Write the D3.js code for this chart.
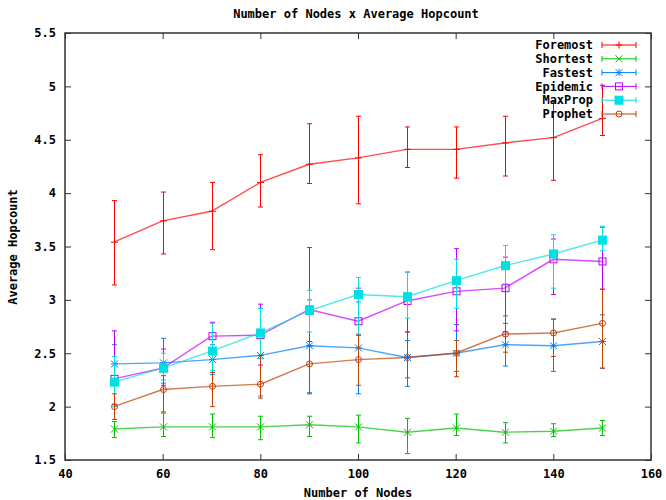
<!DOCTYPE html>
<html>
<head>
<meta charset="utf-8">
<script src="https://cdn.jsdelivr.net/npm/d3@7"></script>
<style>
  html, body { margin: 0; padding: 0; background: #fff; }
  svg text { font-family: "DejaVu Sans Mono", "Liberation Mono", monospace; font-weight: bold; font-size: 12px; fill: #000; }
</style>
</head>
<body>
<svg id="chart" width="666" height="500"></svg>
<script>
// ---------- data ----------
const nodes = [50, 60, 70, 80, 90, 100, 110, 120, 130, 140, 150];

const foremost     = [3.54, 3.74, 3.83, 4.10, 4.27, 4.33, 4.41, 4.41, 4.47, 4.52, 4.70];
const foremostLow  = [3.14, 3.43, 3.47, 3.87, 4.09, 3.90, 4.24, 4.14, 4.16, 4.12, 4.54];
const foremostHigh = [3.93, 4.01, 4.10, 4.36, 4.65, 4.72, 4.62, 4.62, 4.72, 4.86, 5.01];

const shortest     = [1.79, 1.81, 1.81, 1.81, 1.83, 1.81, 1.76, 1.80, 1.76, 1.77, 1.80];
const shortestLow  = [1.71, 1.72, 1.71, 1.69, 1.72, 1.66, 1.56, 1.73, 1.66, 1.72, 1.73];
const shortestHigh = [1.86, 1.94, 1.93, 1.91, 1.91, 1.92, 1.89, 1.93, 1.85, 1.84, 1.87];

const fastest      = [2.40, 2.41, 2.44, 2.48, 2.57, 2.55, 2.46, 2.50, 2.58, 2.57, 2.61];
const fastestLow   = [2.22, 2.22, 2.30, 2.10, 2.13, 2.12, 2.19, 2.33, 2.38, 2.33, 2.36];
const fastestHigh  = [2.58, 2.64, 2.58, 2.92, 3.00, 2.98, 2.62, 2.77, 2.78, 2.82, 2.86];

const epidemic     = [2.26, 2.36, 2.66, 2.67, 2.91, 2.80, 2.99, 3.08, 3.11, 3.38, 3.36];
const epidemicLow  = [2.02, 2.20, 2.50, 2.39, 2.61, 2.67, 2.70, 2.71, 2.70, 3.05, 3.10];
const epidemicHigh = [2.71, 2.54, 2.79, 2.96, 3.49, 3.11, 3.26, 3.48, 3.40, 3.57, 3.68];

const maxprop      = [2.23, 2.36, 2.52, 2.69, 2.90, 3.05, 3.03, 3.18, 3.32, 3.43, 3.56];
const maxpropLow   = [2.00, 2.25, 2.34, 2.45, 2.70, 2.68, 2.83, 2.92, 3.15, 3.11, 3.46];
const maxpropHigh  = [2.47, 2.50, 2.78, 2.92, 3.09, 3.21, 3.26, 3.38, 3.51, 3.61, 3.69];

const prophet      = [2.00, 2.16, 2.19, 2.21, 2.40, 2.44, 2.46, 2.50, 2.68, 2.69, 2.78];
const prophetLow   = [1.88, 1.95, 2.00, 2.08, 2.12, 2.20, 2.27, 2.28, 2.51, 2.47, 2.36];
const prophetHigh  = [2.12, 2.29, 2.32, 2.48, 2.57, 2.67, 2.70, 2.62, 2.85, 2.82, 3.10];

const seriesNames  = ["Foremost", "Shortest", "Fastest", "Epidemic", "MaxProp", "Prophet"];
const xTicks = [40, 60, 80, 100, 120, 140, 160];
const yTicks = [1.5, 2, 2.5, 3, 3.5, 4, 4.5, 5, 5.5];

const titleText = "Number of Nodes x Average Hopcount";
const xLabel = "Number of Nodes";
const yLabel = "Average Hopcount";

// ---------- styling ----------
const series = [
  { name: seriesNames[0], v: foremost, lo: foremostLow, hi: foremostHigh, color: "#ff0000", marker: "plus" },
  { name: seriesNames[1], v: shortest, lo: shortestLow, hi: shortestHigh, color: "#00c000", marker: "cross" },
  { name: seriesNames[2], v: fastest,  lo: fastestLow,  hi: fastestHigh,  color: "#0080ff", marker: "star" },
  { name: seriesNames[3], v: epidemic, lo: epidemicLow, hi: epidemicHigh, color: "#c000ff", marker: "square" },
  { name: seriesNames[4], v: maxprop,  lo: maxpropLow,  hi: maxpropHigh,  color: "#00e0e0", marker: "fsquare" },
  { name: seriesNames[5], v: prophet,  lo: prophetLow,  hi: prophetHigh,  color: "#c04000", marker: "circle" }
];

const L = 65, R = 651, T = 33, B = 460;
const svg = d3.select("#chart");
const x = d3.scaleLinear().domain([40, 160]).range([L, R]);
const y = d3.scaleLinear().domain([1.5, 5.5]).range([B, T]);

// axes with inward ticks
const axColor = "#333";
function styleAxis(g) {
  g.select(".domain").remove();
  g.selectAll(".tick line").attr("stroke", axColor);
  g.selectAll(".tick text").attr("fill", "#000");
}
svg.append("g").attr("transform", `translate(0,${B})`)
  .call(d3.axisBottom(x).tickValues(xTicks).tickSizeInner(-6).tickSizeOuter(0).tickPadding(9).tickFormat(d3.format("d")))
  .call(styleAxis);
svg.append("g").attr("transform", `translate(0,${T})`)
  .call(d3.axisTop(x).tickValues(xTicks).tickSizeInner(-6).tickSizeOuter(0).tickFormat(""))
  .call(styleAxis);
svg.append("g").attr("transform", `translate(${L},0)`)
  .call(d3.axisLeft(y).tickValues(yTicks).tickSizeInner(-6).tickSizeOuter(0).tickPadding(9).tickFormat(d => (d % 1 === 0 ? d3.format("d")(d) : d3.format(".1f")(d))))
  .call(styleAxis);
svg.append("g").attr("transform", `translate(${R},0)`)
  .call(d3.axisRight(y).tickValues(yTicks).tickSizeInner(-6).tickSizeOuter(0).tickFormat(""))
  .call(styleAxis);
svg.selectAll("g text").style("font-family", "'DejaVu Sans Mono', monospace").style("font-size", "12px").style("font-weight", "bold");

svg.append("rect").attr("x", L).attr("y", T).attr("width", R - L).attr("height", B - T)
  .attr("fill", "none").attr("stroke", axColor).attr("stroke-width", 1.5);

// titles
svg.append("text").attr("x", 356).attr("y", 18).attr("text-anchor", "middle").text(titleText);
svg.append("text").attr("x", 358).attr("y", 497).attr("text-anchor", "middle").text(xLabel);
svg.append("text").attr("transform", "translate(17,247) rotate(-90)").attr("text-anchor", "middle").text(yLabel);

// marker drawing
function drawMarker(g, type, cx, cy, color) {
  const s = 3.5;
  if (type === "plus" || type === "star") {
    g.append("line").attr("x1", cx - s).attr("x2", cx + s).attr("y1", cy).attr("y2", cy).attr("stroke", color);
    g.append("line").attr("x1", cx).attr("x2", cx).attr("y1", cy - s).attr("y2", cy + s).attr("stroke", color);
  }
  if (type === "cross" || type === "star") {
    g.append("line").attr("x1", cx - s).attr("x2", cx + s).attr("y1", cy - s).attr("y2", cy + s).attr("stroke", color);
    g.append("line").attr("x1", cx - s).attr("x2", cx + s).attr("y1", cy + s).attr("y2", cy - s).attr("stroke", color);
  }
  if (type === "square") {
    g.append("rect").attr("x", cx - 3.5).attr("y", cy - 3.5).attr("width", 7).attr("height", 7)
      .attr("fill", "none").attr("stroke", color);
  }
  if (type === "fsquare") {
    g.append("rect").attr("x", cx - 4).attr("y", cy - 4).attr("width", 8).attr("height", 8)
      .attr("fill", color).attr("stroke", color);
  }
  if (type === "circle") {
    g.append("circle").attr("cx", cx).attr("cy", cy).attr("r", 3)
      .attr("fill", "none").attr("stroke", color);
  }
}

const line = d3.line().x(d => x(d[0])).y(d => y(d[1]));
const cap = 2.5;

series.forEach(s => {
  const g = svg.append("g");
  // error bars
  nodes.forEach((n, i) => {
    const px = Math.round(x(n)) + 0.5;
    g.append("line").attr("x1", px).attr("x2", px).attr("y1", y(s.lo[i])).attr("y2", y(s.hi[i])).attr("stroke", s.color);
    [s.lo[i], s.hi[i]].forEach(v => {
      g.append("line").attr("x1", px - cap).attr("x2", px + cap).attr("y1", y(v)).attr("y2", y(v)).attr("stroke", s.color);
    });
  });
  // line
  g.append("path").datum(nodes.map((n, i) => [n, s.v[i]])).attr("d", line)
    .attr("fill", "none").attr("stroke", s.color).attr("stroke-width", 1.4).attr("stroke-opacity", 0.7);
  // markers
  nodes.forEach((n, i) => drawMarker(g, s.marker, Math.round(x(n)) + 0.5, y(s.v[i]), s.color));
});

// legend
series.forEach((s, i) => {
  const cy = 45 + i * 13.8;
  const g = svg.append("g");
  g.append("text").attr("x", 593).attr("y", cy).attr("dy", "0.35em").attr("text-anchor", "end").text(s.name);
  g.append("line").attr("x1", 602).attr("x2", 636).attr("y1", cy).attr("y2", cy).attr("stroke", s.color);
  [602, 636].forEach(px => g.append("line").attr("x1", px).attr("x2", px).attr("y1", cy - 3).attr("y2", cy + 3).attr("stroke", s.color));
  drawMarker(g, s.marker, 619, cy, s.color);
});
</script>
</body>
</html>
